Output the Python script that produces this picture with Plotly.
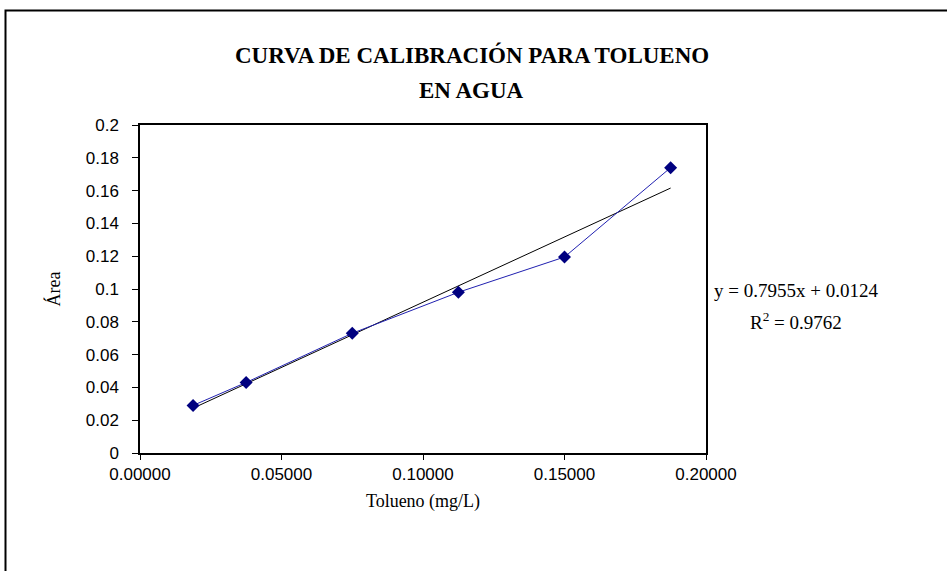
import plotly.graph_objects as go

# datos
tolueno = [0.01875, 0.0375, 0.075, 0.1125, 0.15, 0.1875]
area = [0.029, 0.043, 0.073, 0.098, 0.1195, 0.174]
pendiente = 0.7955
intercepto = 0.0124
r2 = 0.9762

x_ticks = [0.0, 0.05, 0.10, 0.15, 0.20]
x_labels = ["0.00000", "0.05000", "0.10000", "0.15000", "0.20000"]
y_ticks = [0, 0.02, 0.04, 0.06, 0.08, 0.1, 0.12, 0.14, 0.16, 0.18, 0.2]
y_labels = ["0", "0.02", "0.04", "0.06", "0.08", "0.1", "0.12", "0.14", "0.16", "0.18", "0.2"]

W, H = 947, 571
L, R, T, B = 140, 706, 125, 453


def px(x):
    return (x - L) / (R - L)


def py(y):
    return (B - y) / (B - T)


tend_x = [tolueno[0], tolueno[-1]]
tend_y = [pendiente * v + intercepto for v in tend_x]

fig = go.Figure()
fig.add_trace(go.Scatter(
    x=tend_x, y=tend_y, mode="lines",
    line=dict(color="black", width=1), showlegend=False, hoverinfo="skip"
))
fig.add_trace(go.Scatter(
    x=tolueno, y=area, mode="lines+markers",
    line=dict(color="#2020b0", width=1),
    marker=dict(color="#000080", size=10, symbol="diamond"),
    showlegend=False
))

serif = "Liberation Serif, Times New Roman, serif"
sans = "Liberation Sans, Arial, sans-serif"

fig.update_layout(
    width=W, height=H,
    margin=dict(l=L, r=W - R, t=T, b=H - B),
    paper_bgcolor="white", plot_bgcolor="white",
    xaxis=dict(
        range=[0, 0.2], tickvals=x_ticks, ticktext=x_labels,
        showgrid=False, zeroline=False, showline=True, linecolor="black", linewidth=1.5,
        mirror=True, ticks="outside", ticklen=5, tickcolor="black",
        tickfont=dict(family=sans, size=17, color="black"),
        title=dict(text="Tolueno (mg/L)", font=dict(family=serif, size=18, color="black"), standoff=11),
    ),
    yaxis=dict(
        range=[0, 0.2], tickvals=y_ticks, ticktext=y_labels,
        showgrid=False, zeroline=False, showline=True, linecolor="black", linewidth=1.5,
        mirror=True, ticks="outside", ticklen=6, tickcolor="black", ticklabelstandoff=10,
        tickfont=dict(family=sans, size=17, color="black"),
        title=dict(text="Área", font=dict(family=serif, size=18, color="black"), standoff=20),
    ),
    shapes=[dict(
        type="rect", xref="paper", yref="paper",
        x0=px(5.5), x1=px(W + 20), y0=py(H + 20), y1=py(10.5),
        line=dict(color="black", width=2), layer="below",
    )],
    annotations=[
        dict(xref="paper", yref="paper", x=px(472), y=py(55),
             text="<b>CURVA DE CALIBRACIÓN PARA TOLUENO</b>", showarrow=False,
             xanchor="center", yanchor="middle",
             font=dict(family=serif, size=23, color="black")),
        dict(xref="paper", yref="paper", x=px(472), y=py(90),
             text="<b>EN AGUA</b>", showarrow=False,
             xanchor="center", yanchor="middle",
             font=dict(family=serif, size=23, color="black")),
        dict(xref="paper", yref="paper", x=px(796), y=py(290),
             text=f"y = {pendiente}x + {intercepto}", showarrow=False,
             xanchor="center", yanchor="middle",
             font=dict(family=serif, size=19, color="black")),
        dict(xref="paper", yref="paper", x=px(796), y=py(321),
             text=f"R<sup>2</sup> = {r2}", showarrow=False,
             xanchor="center", yanchor="middle",
             font=dict(family=serif, size=19, color="black")),
    ],
)

fig.write_html("out.html", config={"displayModeBar": False},
               post_script="document.body.style.margin = '0';")
